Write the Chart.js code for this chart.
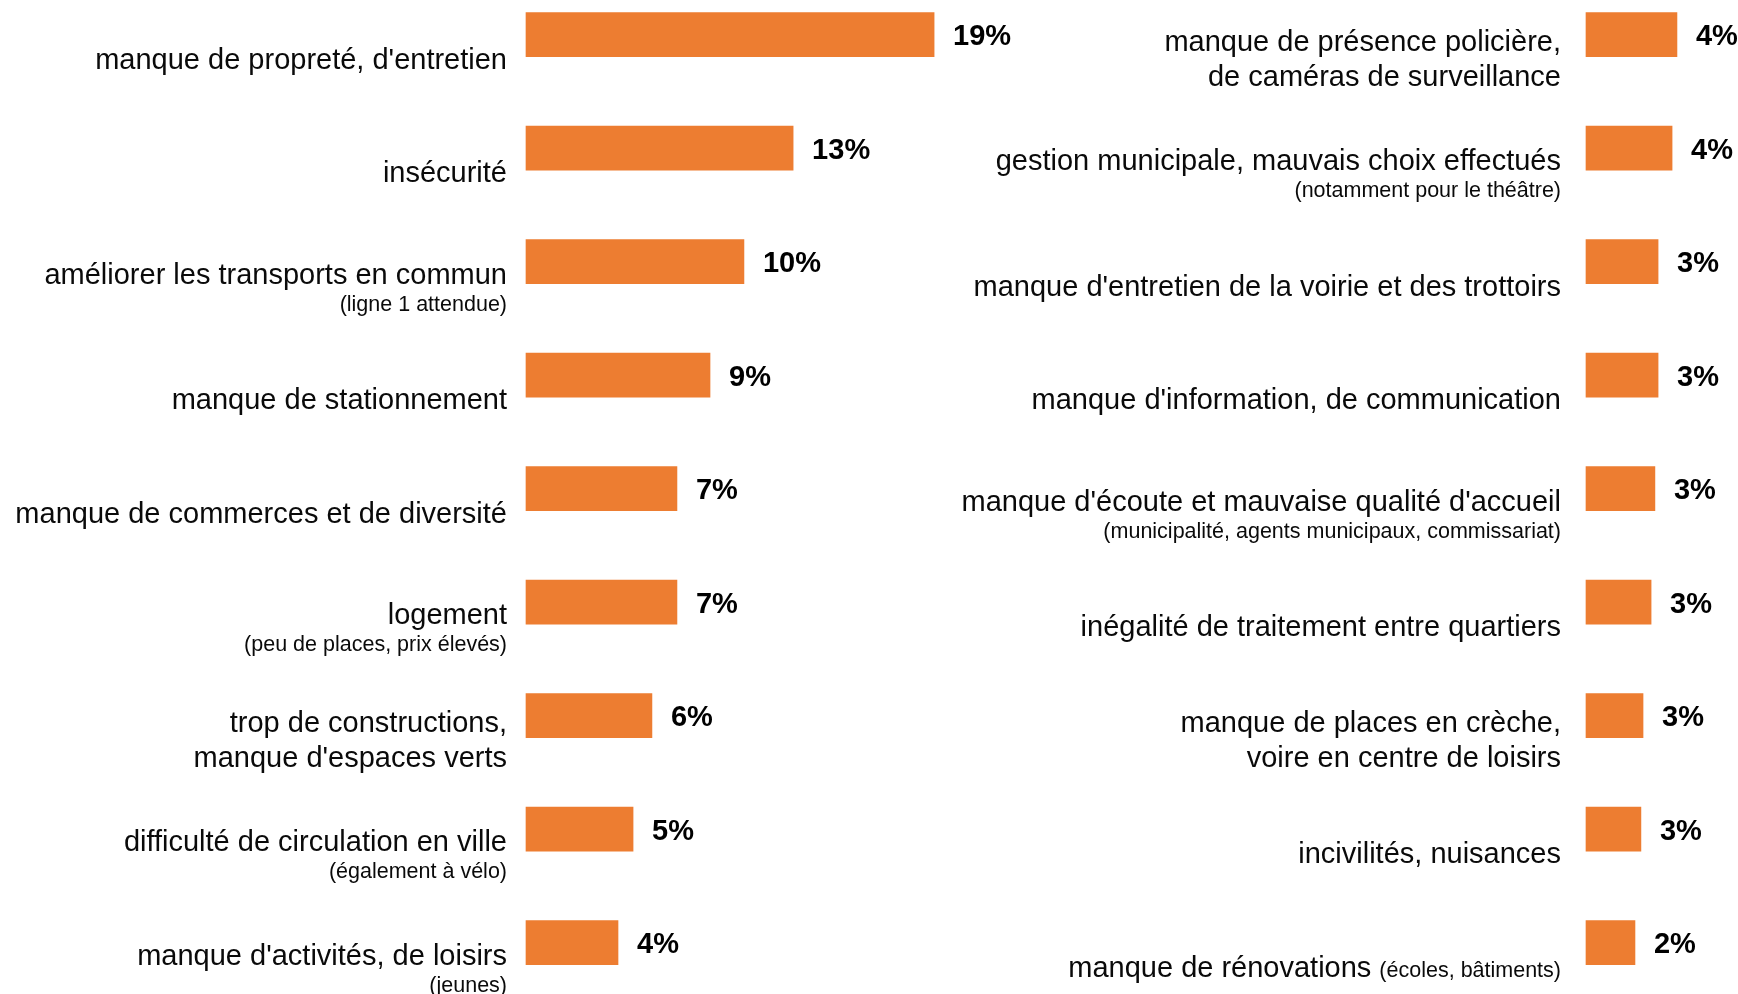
<!DOCTYPE html>
<html>
<head>
<meta charset="utf-8">
<script src="https://cdn.jsdelivr.net/npm/chart.js@4/dist/chart.umd.min.js"></script>
<style>
  html, body { margin: 0; padding: 0; background: #ffffff; }
  body { width: 1738px; height: 994px; position: relative; overflow: hidden; }
  canvas { position: absolute; top: 0; }
  #left { left: 0; }
  #right { left: 880px; }
</style>
</head>
<body>
<canvas id="left" width="1050" height="994"></canvas>
<canvas id="right" width="858" height="994"></canvas>
<script>
// ---- data ----
const leftLabels = [
  ["manque de propreté, d'entretien"],
  ["insécurité"],
  ["améliorer les transports en commun"],
  ["manque de stationnement"],
  ["manque de commerces et de diversité"],
  ["logement"],
  ["trop de constructions,", "manque d'espaces verts"],
  ["difficulté de circulation en ville"],
  ["manque d'activités, de loisirs"]
];
const leftNotes = ["", "", "(ligne 1 attendue)", "", "", "(peu de places, prix élevés)", "", "(également à vélo)", "(jeunes)"];
const leftNotesInline = [false, false, false, false, false, false, false, false, false];
const leftValues = [19.25, 12.6, 10.28, 8.68, 7.12, 7.12, 5.94, 5.05, 4.34];

const rightLabels = [
  ["manque de présence policière,", "de caméras de surveillance"],
  ["gestion municipale, mauvais choix effectués"],
  ["manque d'entretien de la voirie et des trottoirs"],
  ["manque d'information, de communication"],
  ["manque d'écoute et mauvaise qualité d'accueil"],
  ["inégalité de traitement entre quartiers"],
  ["manque de places en crèche,", "voire en centre de loisirs"],
  ["incivilités, nuisances"],
  ["manque de rénovations"]
];
const rightNotes = ["", "(notamment pour le théâtre)", "", "", "(municipalité, agents municipaux, commissariat)", "", "", "", "(écoles, bâtiments)"];
const rightNotesInline = [false, false, false, false, false, false, false, false, true];
const rightValues = [4.29, 4.06, 3.4, 3.4, 3.25, 3.07, 2.69, 2.59, 2.31];

// ---- styling ----
const FONT = '"Liberation Sans", Arial, Helvetica, sans-serif';
const BAR = '#ED7D31';
const MAIN_FONT = '29px ' + FONT;
const NOTE_FONT = '21.5px ' + FONT;
const VALUE_FONT = 'bold 29px ' + FONT;
const MAIN_LH = 35;

function makeLabelPlugin(lines, notes, inline, gap) {
  return {
    id: 'rowLabels',
    afterDatasetsDraw(chart) {
      const ctx = chart.ctx;
      const xs = chart.scales.x, ys = chart.scales.y;
      const area = chart.chartArea;
      const data = chart.data.datasets[0].data;
      ctx.save();
      data.forEach((v, i) => {
        const cy = ys.getPixelForValue(i);
        // value label
        ctx.font = VALUE_FONT;
        ctx.fillStyle = '#000';
        ctx.textAlign = 'left';
        ctx.textBaseline = 'alphabetic';
        ctx.fillText(Math.round(v) + '%', xs.getPixelForValue(v) + 19, cy + 10.5);
        // category label block
        const lx = area.left - gap;
        ctx.fillStyle = '#0a0a0a';
        ctx.textAlign = 'right';
        const main = lines[i];
        const note = notes[i];
        if (note && !inline[i]) {
          ctx.font = MAIN_FONT;
          ctx.fillText(main[0], lx, cy + 22);
          ctx.font = NOTE_FONT;
          ctx.fillText(note, lx, cy + 49);
        } else {
          let by = cy + 34 - (main.length - 1) * MAIN_LH / 2;
          main.forEach((t, k) => {
            const y = by + k * MAIN_LH;
            if (note && inline[i] && k === main.length - 1) {
              ctx.font = NOTE_FONT;
              const w = ctx.measureText(note).width;
              ctx.fillText(note, lx, y);
              ctx.font = MAIN_FONT;
              ctx.fillText(t, lx - w - 8, y);
            } else {
              ctx.font = MAIN_FONT;
              ctx.fillText(t, lx, y);
            }
          });
        }
      });
      ctx.restore();
    }
  };
}

function makeChart(id, labels, values, notes, inline, padLeft, padRight, xMax, gap) {
  return new Chart(document.getElementById(id), {
    type: 'bar',
    data: {
      labels: labels.map(l => l.join(' ')),
      datasets: [{
        data: values,
        backgroundColor: BAR,
        borderWidth: 0,
        barThickness: 44,
        clip: false
      }]
    },
    options: {
      indexAxis: 'y',
      responsive: false,
      animation: false,
      devicePixelRatio: 1,
      layout: { padding: { left: padLeft, right: padRight, top: 34.7, bottom: 51.3 } },
      scales: {
        x: { display: false, min: 0, max: xMax },
        y: { display: false, offset: false }
      },
      plugins: { legend: { display: false }, tooltip: { enabled: false } }
    },
    plugins: [makeLabelPlugin(labels, notes, inline, gap)]
  });
}

// left: bars start at x=526, 21.2 px per percent
makeChart('left', leftLabels, leftValues, leftNotes, leftNotesInline, 526, 1050 - 526 - 424, 20, 19);
// right: canvas at x=880, bars start at 1586
makeChart('right', rightLabels, rightValues, rightNotes, rightNotesInline, 706, 858 - 706 - 106, 5, 25);
</script>
</body>
</html>
